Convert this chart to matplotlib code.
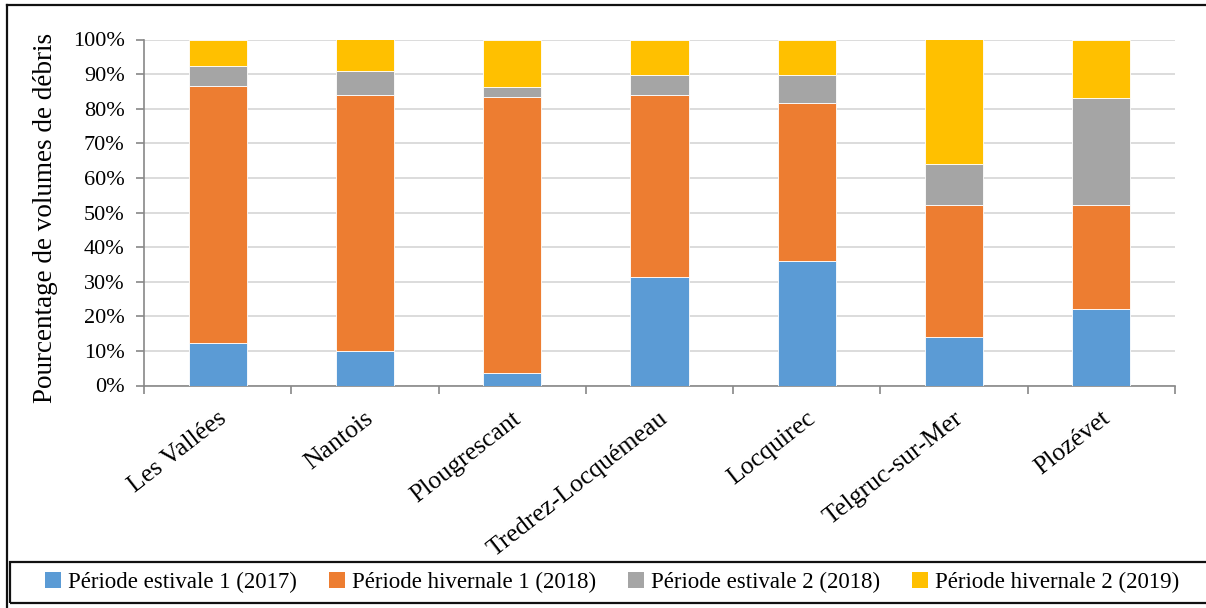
import matplotlib
matplotlib.use("Agg")
import matplotlib.pyplot as plt
import matplotlib.ticker as mticker
import matplotlib.transforms as mtransforms
from matplotlib.patches import Patch, Rectangle
from matplotlib.lines import Line2D
import numpy as np

sites = ["Les Vallées", "Nantois", "Plougrescant", "Tredrez-Locquémeau",
         "Locquirec", "Telgruc-sur-Mer", "Plozévet"]
series_names = ["Période estivale 1 (2017)", "Période hivernale 1 (2018)",
                "Période estivale 2 (2018)", "Période hivernale 2 (2019)"]
estivale_2017 = [12.2, 10.0, 3.5, 31.3, 35.9, 14.1, 22.0]
hivernale_2018 = [74.3, 74.0, 80.0, 52.7, 45.7, 38.2, 30.3]
estivale_2018 = [5.9, 6.8, 2.8, 5.8, 8.2, 11.8, 30.8]
hivernale_2019 = [7.6, 9.2, 13.7, 10.2, 10.2, 35.9, 16.9]
colors = ["#5B9BD5", "#ED7D31", "#A5A5A5", "#FFC000"]

plt.rcParams["font.family"] = ["Liberation Serif", "DejaVu Serif"]

W, H = 1206, 608
fig = plt.figure(figsize=(W / 100, H / 100), dpi=100)

# axes placed in pixel terms of the reference
ax = fig.add_axes([144 / W, 1 - 385.5 / H, (1175 - 144) / W, (385.5 - 39.5) / H])

x = np.arange(len(sites))
bottom = np.zeros(len(sites))
for vals, col, name in zip([estivale_2017, hivernale_2018, estivale_2018, hivernale_2019],
                           colors, series_names):
    ax.bar(x, vals, width=0.395, bottom=bottom, color=col, edgecolor="white",
           linewidth=0.6, label=name, zorder=3)
    bottom += np.array(vals)

ax.set_xlim(-0.5, len(sites) - 0.5)
ax.set_ylim(0, 100)
ax.yaxis.set_major_locator(mticker.MultipleLocator(10))
ax.yaxis.set_major_formatter(mticker.PercentFormatter(xmax=100, decimals=0))
ax.grid(axis="y", color="#d9d9d9", linewidth=1.3, zorder=0)

for side in ["top", "right"]:
    ax.spines[side].set_visible(False)
for side in ["left", "bottom"]:
    ax.spines[side].set_color("#888888")
    ax.spines[side].set_linewidth(1.2)

# boundary ticks without labels, category labels on minor ticks
ax.set_xticks(np.arange(-0.5, len(sites), 1.0))
ax.set_xticklabels([])
ax.set_xticks(x, sites, minor=True)
ax.tick_params(axis="x", which="major", direction="out", length=6, width=1.2, color="#888888")
ax.tick_params(axis="x", which="minor", length=0, pad=22, labelsize=18.5)
ax.tick_params(axis="y", direction="out", length=6, width=1.2, color="#888888",
               labelsize=16, pad=8)
shift = mtransforms.ScaledTranslation(6 / 100, 0, fig.dpi_scale_trans)
for lbl in ax.get_xticklabels(minor=True):
    lbl.set_rotation(38)
    lbl.set_rotation_mode("anchor")
    lbl.set_ha("right")
    lbl.set_va("center")
    lbl.set_transform(lbl.get_transform() + shift)

ax.set_ylabel("Pourcentage de volumes de débris", fontsize=19.5)
ax.yaxis.set_label_coords(-(144 - 58) / (1175 - 144), 0.5 - 0.015)

# outer frame (top and left visible) and legend box
fig.add_artist(Line2D([7 / W, 7 / W], [0, 1 - 5 / H], transform=fig.transFigure,
                      color="#111111", linewidth=1.6))
fig.add_artist(Line2D([7 / W, 1], [1 - 5 / H, 1 - 5 / H], transform=fig.transFigure,
                      color="#111111", linewidth=1.6))
fig.add_artist(Rectangle((10 / W, 1 - 603 / H), 1.0, (603 - 562) / H,
                         transform=fig.transFigure, fill=False,
                         edgecolor="#111111", linewidth=1.6))

handles = [Patch(facecolor=c, edgecolor="none") for c in colors]
fig.legend(handles, series_names, loc="center", ncol=4,
           bbox_to_anchor=(612 / W, 1 - 582 / H), frameon=False, fontsize=16.5,
           handlelength=0.7, handleheight=0.7, handletextpad=0.3,
           columnspacing=1.4)

fig.savefig("out.png", dpi=100)
